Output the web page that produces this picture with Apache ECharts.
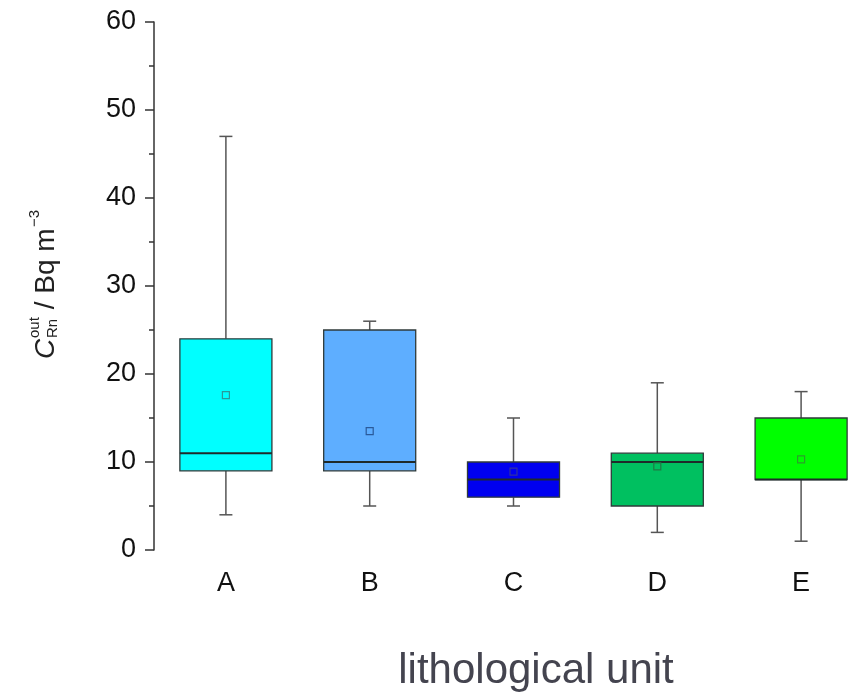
<!DOCTYPE html>
<html>
<head>
<meta charset="utf-8">
<script src="https://cdn.jsdelivr.net/npm/echarts@6/dist/echarts.min.js"></script>
<style>
  html, body { margin: 0; padding: 0; background: #fff; }
  #chart { width: 848px; height: 696px; }
</style>
</head>
<body>
<div id="chart"></div>
<script>
// lithological units
var categories = ['A', 'B', 'C', 'D', 'E'];
// box statistics (Bq m^-3)
var whiskerLow = [4, 5, 5, 2, 1];
var q1 = [9, 9, 6, 5, 8];
var median = [11, 10, 8, 10, 8];
var q3 = [24, 25, 10, 11, 15];
var whiskerHigh = [47, 26, 15, 19, 18];
var mean = [17.6, 13.5, 8.9, 9.5, 10.3];
var yTicks = [0, 10, 20, 30, 40, 50, 60];
var boxColors = ['#00ffff', '#5eaeff', '#0000f0', '#00c060', '#00ff00'];
var meanColors = ['#2a9a9a', '#2a5a9a', '#3030a0', '#1f7a45', '#2aa02a'];

var font = '"Liberation Sans", Arial, sans-serif';

var data = categories.map(function (c, i) {
    return [i, whiskerLow[i], q1[i], median[i], q3[i], whiskerHigh[i], mean[i]];
});

function renderItem(params, api) {
    var i = api.value(0);
    var pLow = api.coord([i, api.value(1)]);
    var pQ1 = api.coord([i, api.value(2)]);
    var pMed = api.coord([i, api.value(3)]);
    var pQ3 = api.coord([i, api.value(4)]);
    var pHigh = api.coord([i, api.value(5)]);
    var pMean = api.coord([i, api.value(6)]);
    var cx = pQ1[0];
    var bw = api.size([1, 0])[0] * 0.64;
    var cap = 6.5;
    var whisk = { stroke: '#555', lineWidth: 1.5 };
    var m = 3.5;
    return {
        type: 'group',
        children: [
            { type: 'line', shape: { x1: cx, y1: pQ3[1], x2: cx, y2: pHigh[1] }, style: whisk },
            { type: 'line', shape: { x1: cx, y1: pQ1[1], x2: cx, y2: pLow[1] }, style: whisk },
            { type: 'line', shape: { x1: cx - cap, y1: pHigh[1], x2: cx + cap, y2: pHigh[1] }, style: whisk },
            { type: 'line', shape: { x1: cx - cap, y1: pLow[1], x2: cx + cap, y2: pLow[1] }, style: whisk },
            {
                type: 'rect',
                shape: { x: cx - bw / 2, y: pQ3[1], width: bw, height: pQ1[1] - pQ3[1] },
                style: { fill: boxColors[i], stroke: '#2f3a3a', lineWidth: 1.3 }
            },
            {
                type: 'line',
                shape: { x1: cx - bw / 2, y1: pMed[1], x2: cx + bw / 2, y2: pMed[1] },
                style: { stroke: '#1f2a2a', lineWidth: 2 }
            },
            {
                type: 'rect',
                shape: { x: cx - m, y: pMean[1] - m, width: 2 * m, height: 2 * m },
                style: { fill: 'none', stroke: meanColors[i], lineWidth: 1.2 }
            }
        ]
    };
}

var chart = echarts.init(document.getElementById('chart'));

var titleStyle = { fill: '#222', fontFamily: font, verticalAlign: 'middle', align: 'left' };
function t(txt, x, y, size, italic) {
    return {
        type: 'text', x: x, y: y,
        style: Object.assign({}, titleStyle, {
            text: txt, fontSize: size, fontStyle: italic ? 'italic' : 'normal'
        })
    };
}

var option = {
    animation: false,
    backgroundColor: '#fff',
    grid: {
        left: 154, top: 22, width: 719, height: 528,
        containLabel: false,
        outerBoundsMode: 'none'
    },
    xAxis: {
        type: 'category',
        data: categories,
        boundaryGap: true,
        axisLine: { show: false },
        axisTick: { show: false },
        axisLabel: { color: '#111', fontSize: 27, fontFamily: font, margin: 20 },
        splitLine: { show: false }
    },
    yAxis: {
        type: 'value',
        min: yTicks[0],
        max: yTicks[yTicks.length - 1],
        interval: 10,
        axisLine: { show: true, lineStyle: { color: '#333', width: 1.5 } },
        axisTick: { show: true, length: 9, lineStyle: { color: '#333', width: 1.5 } },
        minorTick: { show: true, splitNumber: 2, length: 5, lineStyle: { color: '#333', width: 1.5 } },
        axisLabel: { color: '#111', fontSize: 27, fontFamily: font, margin: 18 },
        splitLine: { show: false }
    },
    graphic: [
        {
            type: 'group',
            x: 46, y: 285,
            rotation: Math.PI / 2,
            children: [
                t('C', -74, 0, 28, true),
                t('out', -53, -11, 15, false),
                t('Rn', -53, 7, 15, false),
                t(' / Bq m', -32, 0, 28, false),
                t('\u22123', 58, -11, 15, false)
            ]
        },
        {
            type: 'text',
            x: 536, y: 671,
            style: {
                text: 'lithological unit', fontSize: 42, fontFamily: font,
                fill: '#44444f', align: 'center', verticalAlign: 'middle'
            }
        }
    ],
    series: [{
        type: 'custom',
        renderItem: renderItem,
        encode: { x: 0, y: [1, 2, 3, 4, 5, 6] },
        data: data,
        clip: false
    }]
};

chart.setOption(option);
</script>
</body>
</html>
